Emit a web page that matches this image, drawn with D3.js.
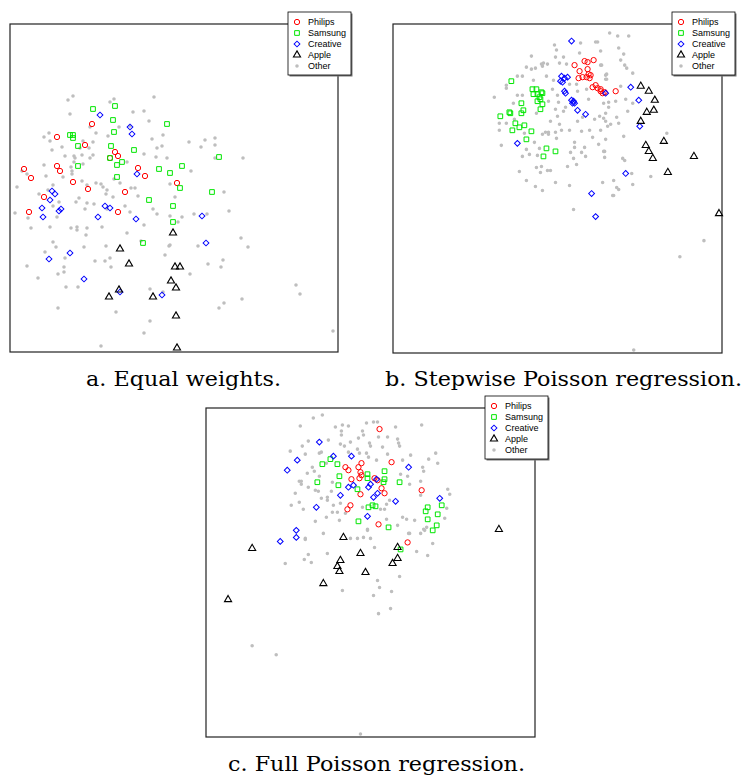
<!DOCTYPE html>
<html>
<head>
<meta charset="utf-8">
<script src="https://cdn.jsdelivr.net/npm/d3@7"></script>
<style>
  body { margin: 0; background: #fff; }
  svg { display: block; }
</style>
</head>
<body>
<div id="viz-container"></div>
<script>
// brands and legend
const brands = ["Philips", "Samsung", "Creative", "Apple", "Other"];
const captions = ["a. Equal weights.", "b. Stepwise Poisson regression.", "c. Full Poisson regression."];

// a. equal weights -- MDS coordinates (dim1, dim2)
const aPhilips = [[82,100],[47,113],[75,121],[105,128],[108,132],[100,134],[14,145],[47,142],[50,147],[21,154],[128,144],[135,152],[63,158],[78,165],[115,168],[34,173],[19,188],[108,188],[167,159]];
const aSamsung = [[83,85],[105,82],[103,96],[157,100],[60,111],[63,111],[63,114],[68,122],[104,108],[101,122],[124,126],[100,134],[112,138],[107,141],[68,142],[149,145],[160,149],[107,153],[139,176],[163,182],[209,133],[172,142],[170,164],[202,168],[163,198],[133,219]];
const aCreative = [[90,91],[120,103],[122,110],[127,150],[42,167],[45,170],[40,176],[32,184],[51,185],[49,187],[95,182],[100,184],[33,193],[88,193],[126,195],[192,192],[60,229],[39,235],[74,255],[110,268],[152,271],[196,219]];
const aApple = [[163,209],[110,225],[119,240],[165,243],[170,243],[161,257],[166,264],[109,266],[99,273],[143,273],[166,292],[167,324]];
const aOther = [[63,72],[58,76],[104,75],[100,78],[144,73],[60,90],[123,88],[134,87],[139,97],[120,102],[109,103],[80,103],[86,109],[98,112],[39,109],[34,113],[40,117],[52,123],[42,126],[73,117],[83,118],[79,124],[70,124],[72,131],[64,132],[83,131],[80,134],[65,134],[55,132],[64,138],[61,143],[62,147],[73,140],[34,141],[17,150],[12,147],[36,152],[53,153],[62,150],[72,157],[77,161],[86,159],[91,160],[97,166],[96,170],[93,163],[104,155],[103,173],[110,159],[121,164],[125,164],[128,172],[142,115],[153,111],[147,124],[152,122],[134,130],[146,133],[157,134],[117,138],[7,163],[29,170],[43,161],[38,166],[49,178],[43,182],[69,174],[66,178],[77,179],[84,180],[75,185],[97,185],[115,182],[5,189],[18,194],[47,193],[120,188],[143,185],[147,190],[160,192],
  [179,118],[195,116],[205,114],[191,123],[205,121],[205,134],[233,134],[181,147],[160,160],[165,173],[214,168],[219,187],[184,190],[197,190],[172,193],
  [21,204],[40,203],[61,204],[67,203],[67,206],[77,204],[76,211],[92,203],[117,209],[134,201],[43,218],[46,223],[35,228],[74,223],[96,222],[131,217],[159,222],[155,231],[55,234],[17,242],[54,243],[54,248],[48,250],[85,237],[95,237],[100,234],[101,243],[28,254],[56,263],[68,263],[140,265],[153,268],[48,284],[106,288],[140,297],[134,309],[91,322],
  [168,198],[231,214],[238,223],[188,222],[213,236],[198,240],[211,243],[180,250],[286,261],[290,270],[232,275],[214,279],[209,284],[323,307],[160,221]];

// b. stepwise poisson regression
const bPhilips = [[191,37],[194,38],[200,36],[181,41],[186,47],[194,45],[195,50],[185,54],[189,53],[193,53],[196,54],[197,51],[199,63],[202,61],[204,64],[207,67],[209,69],[211,68],[207,65],[222,67]];
const bSamsung = [[118,57],[139,65],[143,65],[140,70],[144,70],[148,68],[149,69],[146,73],[144,77],[147,75],[149,80],[128,79],[147,85],[130,86],[128,89],[116,88],[117,89],[107,92],[122,99],[126,103],[131,101],[119,106],[138,107],[133,115],[153,124],[162,127],[150,132]];
const bCreative = [[178,17],[168,52],[171,54],[174,53],[167,57],[169,58],[171,67],[172,69],[178,76],[180,77],[179,79],[181,79],[184,86],[192,90],[212,69],[237,63],[245,76],[246,102],[232,149],[124,119],[198,169],[202,192]];
const bApple = [[247,62],[255,67],[261,76],[253,88],[260,86],[247,97],[252,121],[255,127],[259,134],[270,117],[300,132],[274,148],[325,189]];
const bOther = [[187,19],[202,18],[204,18],[161,21],[163,26],[138,32],[162,33],[170,33],[186,29],[207,27],[148,40],[150,39],[154,40],[133,43],[138,45],[142,44],[149,42],[166,39],[173,40],[207,41],[213,50],[124,52],[129,52],[140,56],[153,52],[160,56],[176,60],[183,60],[159,65],[113,61],[113,64],[129,71],[124,71],[164,71],[184,67],[193,65],[195,75],[101,73],[120,79],[155,77],[165,78],[172,83],[162,85],[106,99],[113,99],[121,95],[143,89],[164,92],[170,87],[166,100],[157,97],[184,97],[189,93],[201,95],[206,92],[212,97],[207,106],[196,106],[176,106],[152,108],[155,108],[106,106],[131,109],[215,78],[215,83],[212,55],
  [216,9],[224,12],[235,12],[225,24],[230,30],[227,36],[231,41],[233,44],[208,41],[239,49],[212,51],[213,55],[227,62],[222,77],[232,75],[234,87],[239,79],[212,89],[210,94],[223,93],[217,100],[214,102],[225,99],[273,109],[210,79],
  [108,121],[149,110],[155,110],[163,114],[141,118],[162,108],[146,124],[133,125],[129,132],[136,130],[144,131],[148,142],[143,143],[147,148],[154,146],[157,146],[126,147],[133,156],[162,158],[142,162],[149,166],[176,161],[174,142],[183,140],[180,134],[177,128],[181,118],[181,123],[191,123],[188,128],[192,132],[199,113],[205,120],[211,127],[211,133],[212,115],[209,158],[180,185],[188,107],[168,106],
  [230,112],[210,127],[229,134],[231,136],[238,149],[257,152],[220,156],[223,163],[225,165],[239,160],[219,171],[220,171],[310,216],[286,232],[240,325]];

// c. full poisson regression
const cPhilips = [[139,59],[142,62],[145,71],[144,97],[141,101],[173,21],[185,54],[155,55],[152,59],[154,64],[155,67],[153,70],[168,70],[171,72],[175,80],[178,85],[154,86],[215,82],[172,116],[201,134]];
const cSamsung = [[124,51],[131,56],[116,56],[133,68],[111,74],[132,77],[152,113],[161,66],[161,70],[178,63],[178,71],[177,74],[193,74],[151,81],[166,97],[169,98],[162,99],[221,99],[219,103],[235,97],[231,106],[221,111],[182,119],[230,117],[226,122],[194,141]];
const cCreative = [[113,34],[91,52],[81,62],[127,48],[145,48],[142,79],[147,77],[134,87],[110,99],[90,122],[90,129],[74,133],[202,59],[170,71],[164,76],[162,79],[171,85],[167,89],[189,93],[161,108],[233,90]];
const cApple = [[137,129],[292,121],[46,140],[22,191],[154,145],[134,152],[131,158],[133,163],[159,164],[117,175],[191,139],[191,150],[186,155]];
const cOther = [[107,10],[116,7],[94,18],[129,19],[136,17],[135,23],[135,27],[142,18],[102,33],[122,32],[96,38],[84,43],[99,46],[113,45],[115,44],[134,36],[138,38],[142,44],[144,34],[120,55],[106,59],[108,63],[101,65],[93,73],[95,76],[95,73],[113,68],[102,79],[109,82],[112,83],[89,85],[126,74],[125,83],[115,90],[121,89],[121,92],[93,94],[85,97],[97,101],[127,97],[134,95],[120,109],[126,104],[131,104],[109,113],[133,112],[139,105],[99,130],[117,125],[152,30],[151,41],
  [160,15],[167,14],[171,14],[189,19],[215,17],[156,23],[157,27],[172,29],[181,29],[191,31],[192,35],[163,35],[164,38],[176,39],[193,38],[153,45],[160,45],[162,49],[181,46],[170,52],[196,52],[204,47],[222,51],[231,55],[229,45],[216,59],[217,63],[194,66],[201,68],[203,76],[214,73],[241,81],[243,86],[156,99],[180,96],[174,101],[178,101],[183,92],[196,109],[200,111],[208,112],[217,121],[220,119],[161,121],[180,111],[240,100],[238,110],[191,117],[202,125],[214,87],[157,129],[164,130],
  [99,131],[144,130],[151,130],[102,146],[121,145],[98,151],[105,154],[79,155],[136,182],[167,187],[168,139],[46,237],[70,246],[154,325],[161,122],
  [203,125],[214,125],[218,122],[226,135],[210,143],[221,147],[193,168],[171,172],[173,179],[185,183],[184,200],[172,205]];

const series = [
  [aOther, aPhilips, aSamsung, aCreative, aApple],
  [bOther, bPhilips, bSamsung, bCreative, bApple],
  [cOther, cPhilips, cSamsung, cCreative, cApple]
];
const order = ["Other", "Philips", "Samsung", "Creative", "Apple"];

const colors = {Philips: "#ff0000", Samsung: "#00e600", Creative: "#0000ff", Apple: "#000000", Other: "#bebebe"};

// layout
const panels = [
  {left: 10, top: 24, size: 328, capX: 183.5, capY: 386, capW: 195},
  {left: 393, top: 24, size: 329, capX: 563.5, capY: 386, capW: 357},
  {left: 206, top: 408, size: 329, capX: 376.5, capY: 771, capW: 297}
];

let viz = d3.select("#viz-container")
  .append("svg")
    .attr("width", 743)
    .attr("height", 781)
;

function symbolPath(brand){
  if (brand == "Philips") return d3.symbol().type(d3.symbolCircle).size(22)();
  if (brand == "Samsung") return d3.symbol().type(d3.symbolSquare).size(22)();
  if (brand == "Creative") return d3.symbol().type(d3.symbolSquare).size(17)();
  if (brand == "Apple") return d3.symbol().type(d3.symbolTriangle).size(22)();
  return d3.symbol().type(d3.symbolCircle).size(10)();
}

function markAttrs(sel, brand){
  sel.attr("d", symbolPath(brand));
  if (brand == "Other") {
    sel.attr("fill", colors.Other).attr("stroke", "none");
  } else {
    sel.attr("fill", "none").attr("stroke", colors[brand]).attr("stroke-width", brand == "Apple" ? 1.1 : 1);
  }
}

panels.forEach(function(p, i){
  let x = d3.scaleLinear().domain([0, 328]).range([p.left, p.left + p.size]);
  let y = d3.scaleLinear().domain([0, 328]).range([p.top, p.top + p.size]);

  let g = viz.append("g");

  g.append("rect")
    .attr("x", p.left).attr("y", p.top)
    .attr("width", p.size).attr("height", p.size)
    .attr("fill", "none").attr("stroke", "#222").attr("stroke-width", 1.2);

  series[i].forEach(function(pts, k){
    let brand = order[k];
    g.selectAll(null).data(pts).enter()
      .append("path")
        .call(markAttrs, brand)
        .attr("transform", function(d){
          let rot = brand == "Creative" ? " rotate(45)" : "";
          return "translate(" + x(d[0]) + "," + y(d[1]) + ")" + rot;
        });
  });

  // legend
  let right = p.left + p.size;
  let lg = g.append("g").attr("transform", "translate(" + (right - 50) + "," + (p.top - 12) + ")");
  lg.append("rect").attr("x", 1.5).attr("y", 1.5).attr("width", 63).attr("height", 63).attr("fill", "#777");
  lg.append("rect").attr("x", 0).attr("y", 0).attr("width", 63).attr("height", 63)
    .attr("fill", "#fff").attr("stroke", "#000").attr("stroke-width", 0.8);

  brands.forEach(function(b, j){
    let ry = 10 + j * 11;
    lg.append("path").call(markAttrs, b)
      .attr("transform", "translate(9," + ry + ")" + (b == "Creative" ? " rotate(45)" : ""));
    lg.append("text")
      .attr("x", 20).attr("y", ry + 3.2)
      .attr("font-family", "Liberation Sans, Arial, sans-serif")
      .attr("font-size", 9)
      .text(b);
  });

  viz.append("text")
    .attr("x", p.capX).attr("y", p.capY)
    .attr("text-anchor", "middle")
    .attr("font-family", "DejaVu Serif, serif")
    .attr("font-size", 20)
    .attr("textLength", p.capW)
    .attr("lengthAdjust", "spacingAndGlyphs")
    .text(captions[i]);
});
</script>
</body>
</html>
